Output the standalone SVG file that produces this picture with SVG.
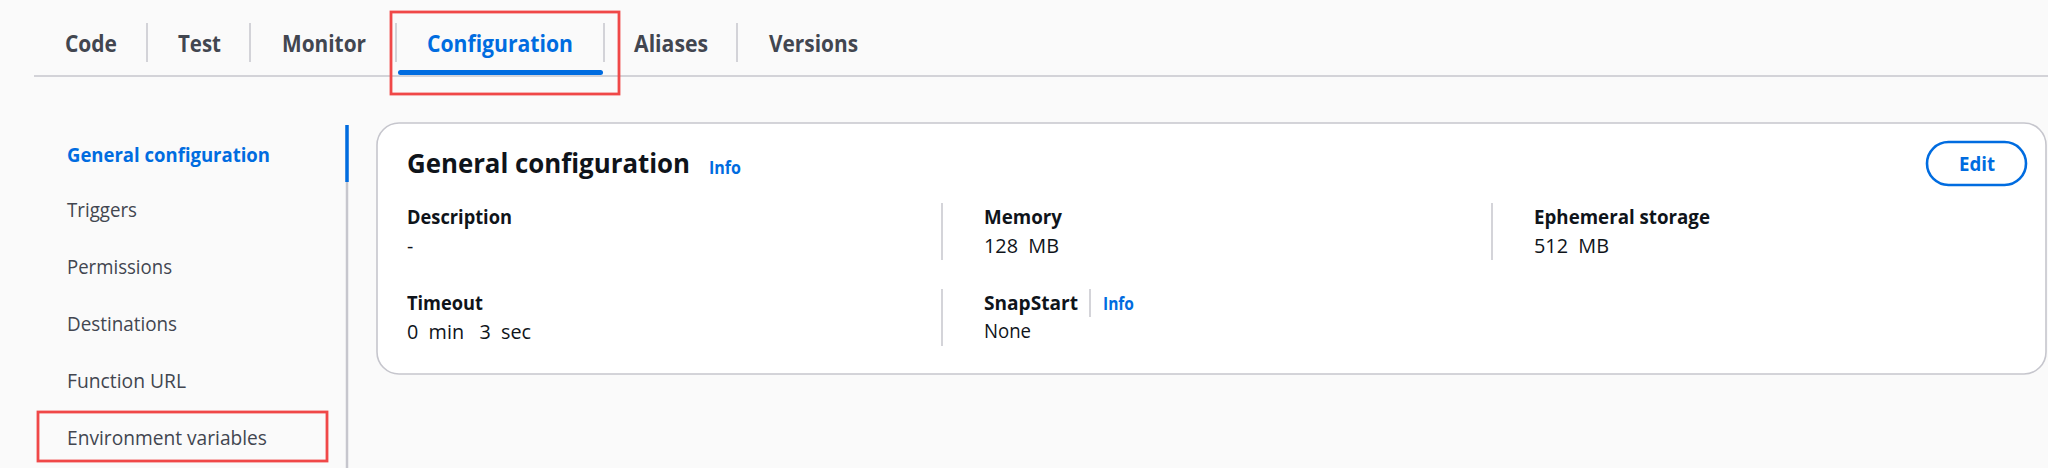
<svg xmlns="http://www.w3.org/2000/svg" width="2048" height="468" viewBox="0 0 2048 468">
<style>
text{font-family:"Open Sans","Noto Sans","Liberation Sans",sans-serif}
.tab{font-size:24px;font-weight:700;fill:#424650}
.tabon{font-size:24px;font-weight:700;fill:#006ce0}
.nav{font-size:20px;fill:#424650}
.navon{font-size:20px;font-weight:700;fill:#006ce0}
.title{font-size:26px;font-weight:700;fill:#0f141a}
.lbl{font-size:19.5px;font-weight:700;fill:#0f141a}
.val{font-size:19.5px;fill:#0f141a}
.info{font-size:17px;font-weight:700;fill:#006ce0}
.edit{font-size:20px;font-weight:700;fill:#006ce0}
.sep{stroke:#c6c6cd;stroke-width:1.5}
.hl{fill:none;stroke:#f04848;stroke-width:2.8}
</style>
<rect x="0" y="0" width="2048" height="468" fill="#fafafa"/>
<g id="tabs">
<line class="sep" x1="34" y1="76" x2="2048" y2="76" stroke-width="2"/>
<line class="sep" x1="147" y1="23" x2="147" y2="62"/>
<line class="sep" x1="250" y1="23" x2="250" y2="62"/>
<line class="sep" x1="396" y1="23" x2="396" y2="62"/>
<line class="sep" x1="604" y1="23" x2="604" y2="62"/>
<line class="sep" x1="737" y1="23" x2="737" y2="62"/>
<text class="tab" x="65" y="52" textLength="52" lengthAdjust="spacingAndGlyphs">Code</text>
<text class="tab" x="178" y="52" textLength="43" lengthAdjust="spacingAndGlyphs">Test</text>
<text class="tab" x="282" y="52" textLength="84" lengthAdjust="spacingAndGlyphs">Monitor</text>
<text class="tabon" x="427" y="52" textLength="146" lengthAdjust="spacingAndGlyphs">Configuration</text>
<rect x="398" y="70" width="205" height="5" rx="2.5" fill="#006ce0"/>
<text class="tab" x="634" y="52" textLength="74" lengthAdjust="spacingAndGlyphs">Aliases</text>
<text class="tab" x="769" y="52" textLength="89" lengthAdjust="spacingAndGlyphs">Versions</text>
</g>
<g id="sidenav">
<line x1="347" y1="125" x2="347" y2="468" stroke="#c6c6cd" stroke-width="2.5"/>
<line x1="347" y1="125" x2="347" y2="182" stroke="#006ce0" stroke-width="3.5"/>
<text class="navon" x="67" y="162" textLength="203" lengthAdjust="spacingAndGlyphs">General configuration</text>
<text class="nav" x="67" y="217" textLength="70" lengthAdjust="spacingAndGlyphs">Triggers</text>
<text class="nav" x="67" y="274" textLength="105" lengthAdjust="spacingAndGlyphs">Permissions</text>
<text class="nav" x="67" y="331" textLength="110" lengthAdjust="spacingAndGlyphs">Destinations</text>
<text class="nav" x="67" y="388" textLength="119" lengthAdjust="spacingAndGlyphs">Function URL</text>
<text class="nav" x="67" y="445" textLength="200" lengthAdjust="spacingAndGlyphs">Environment variables</text>
</g>
<g id="card">
<rect x="377" y="123" width="1669" height="251" rx="22" fill="#ffffff" stroke="#c6c6cd" stroke-width="1.6"/>
<text class="title" x="407" y="173" textLength="283" lengthAdjust="spacingAndGlyphs">General configuration</text>
<text class="info" x="709" y="174" textLength="32" lengthAdjust="spacingAndGlyphs">Info</text>
<rect x="1927" y="142" width="99" height="43" rx="21.5" fill="#ffffff" stroke="#006ce0" stroke-width="2.6"/>
<text class="edit" x="1959" y="171" textLength="36" lengthAdjust="spacingAndGlyphs">Edit</text>
<line class="sep" x1="942" y1="203" x2="942" y2="260"/>
<line class="sep" x1="1492" y1="203" x2="1492" y2="260"/>
<line class="sep" x1="942" y1="289" x2="942" y2="346"/>
<line class="sep" x1="1090" y1="289" x2="1090" y2="317"/>
<text class="lbl" x="407" y="224" textLength="105" lengthAdjust="spacingAndGlyphs">Description</text>
<text class="val" x="407" y="253">-</text>
<text class="lbl" x="984" y="224" textLength="78" lengthAdjust="spacingAndGlyphs">Memory</text>
<text class="val" x="984" y="253" xml:space="preserve" textLength="75" lengthAdjust="spacingAndGlyphs">128  MB</text>
<text class="lbl" x="1534" y="224" textLength="176" lengthAdjust="spacingAndGlyphs">Ephemeral storage</text>
<text class="val" x="1534" y="253" xml:space="preserve" textLength="75" lengthAdjust="spacingAndGlyphs">512  MB</text>
<text class="lbl" x="407" y="310" textLength="76" lengthAdjust="spacingAndGlyphs">Timeout</text>
<text class="val" x="407" y="339" xml:space="preserve" textLength="124" lengthAdjust="spacingAndGlyphs">0  min   3  sec</text>
<text class="lbl" x="984" y="310" textLength="94" lengthAdjust="spacingAndGlyphs">SnapStart</text>
<text class="info" x="1103" y="310" textLength="31" lengthAdjust="spacingAndGlyphs">Info</text>
<text class="val" x="984" y="338" textLength="47" lengthAdjust="spacingAndGlyphs">None</text>
</g>
<g id="highlights">
<rect class="hl" x="391" y="12" width="228" height="82"/>
<rect class="hl" x="38" y="412" width="289" height="49"/>
</g>
</svg>
